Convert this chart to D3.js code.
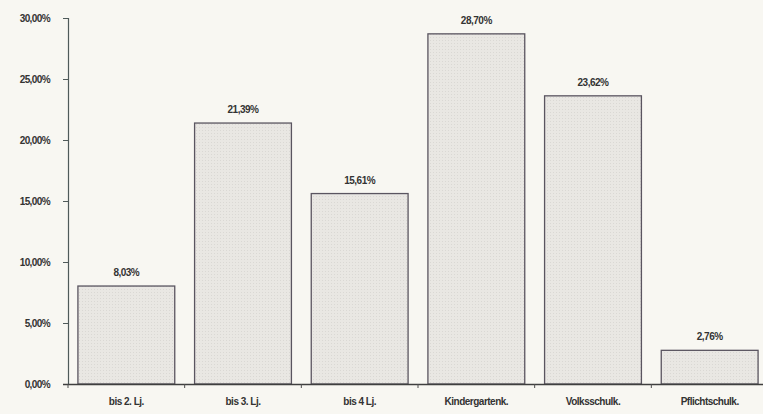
<!DOCTYPE html>
<html>
<head>
<meta charset="utf-8">
<script src="https://cdn.jsdelivr.net/npm/d3@7"></script>
<style>
  html, body { margin: 0; padding: 0; background: #f8f7f2; }
  svg { display: block; }
  text { font-family: "Liberation Sans", Arial, sans-serif; font-weight: bold; fill: #333; }
</style>
</head>
<body>
<svg id="chart" width="763" height="414"></svg>
<script>
const categories = ["bis 2. Lj.", "bis 3. Lj.", "bis 4 Lj.", "Kindergartenk.", "Volksschulk.", "Pflichtschulk."];
const values = [8.03, 21.39, 15.61, 28.70, 23.62, 2.76];
const valueLabels = ["8,03%", "21,39%", "15,61%", "28,70%", "23,62%", "2,76%"];
const yTicks = [0, 5, 10, 15, 20, 25, 30];
const yTickLabels = ["0,00%", "5,00%", "10,00%", "15,00%", "20,00%", "25,00%", "30,00%"];

const svg = d3.select("#chart");
const x = d3.scaleBand().domain(categories).range([68, 768]).paddingInner(0.17).paddingOuter(0.085);
const y = d3.scaleLinear().domain([0, 30]).range([384, 18]);

const FONT = "Liberation Sans, Arial, sans-serif";

// bar texture pattern
const defs = svg.append("defs");
const pat = defs.append("pattern").attr("id", "dots").attr("width", 3).attr("height", 3).attr("patternUnits", "userSpaceOnUse");
pat.append("rect").attr("width", 3).attr("height", 3).attr("fill", "#e9e7e3");
pat.append("rect").attr("x", 1).attr("y", 1).attr("width", 1).attr("height", 1).attr("fill", "#dad8d4");

// bars
svg.append("g").selectAll("rect").data(values).join("rect")
  .attr("x", (d, i) => x(categories[i]))
  .attr("y", d => y(d))
  .attr("width", x.bandwidth())
  .attr("height", d => y(0) - y(d))
  .attr("fill", "url(#dots)")
  .attr("stroke", "#5a5560")
  .attr("stroke-width", 1.3);

// value labels
svg.append("g").selectAll("text").data(values).join("text")
  .attr("x", (d, i) => x(categories[i]) + x.bandwidth() / 2)
  .attr("y", d => y(d) - 10)
  .attr("text-anchor", "middle")
  .attr("font-size", 10)
  .attr("letter-spacing", -0.5)
  .text((d, i) => valueLabels[i]);

// y axis
const yAxis = d3.axisLeft(y).tickValues(yTicks).tickFormat((d, i) => yTickLabels[i]).tickSize(5).tickPadding(13);
const gy = svg.append("g").attr("transform", "translate(68,0)").call(yAxis);
gy.select(".domain").attr("stroke", "#4f5a5a").attr("stroke-width", 1.2);
gy.selectAll(".tick line").attr("stroke", "#4f5a5a");
gy.selectAll(".tick text").attr("font-size", 10).attr("letter-spacing", -0.6).attr("fill", "#333")
  .attr("font-family", FONT).attr("font-weight", "bold");

// x axis
const boundaries = d3.range(categories.length + 1).map(i => 68 + i * x.step());
const xAxis = d3.axisBottom(x).tickSize(0).tickPadding(14);
const gx = svg.append("g").attr("transform", "translate(0,384)").call(xAxis);
gx.select(".domain").attr("stroke", "#3f3f3f").attr("stroke-width", 1.4).attr("d", "M63,0.5H763");
gx.selectAll(".tick text").attr("font-size", 10).attr("letter-spacing", -0.5).attr("fill", "#333")
  .attr("font-family", FONT).attr("font-weight", "bold");
svg.append("g").selectAll("line").data(boundaries.slice(0, -1)).join("line")
  .attr("x1", d => d).attr("x2", d => d)
  .attr("y1", 384).attr("y2", 388)
  .attr("stroke", "#4f4f4f");
</script>
</body>
</html>
